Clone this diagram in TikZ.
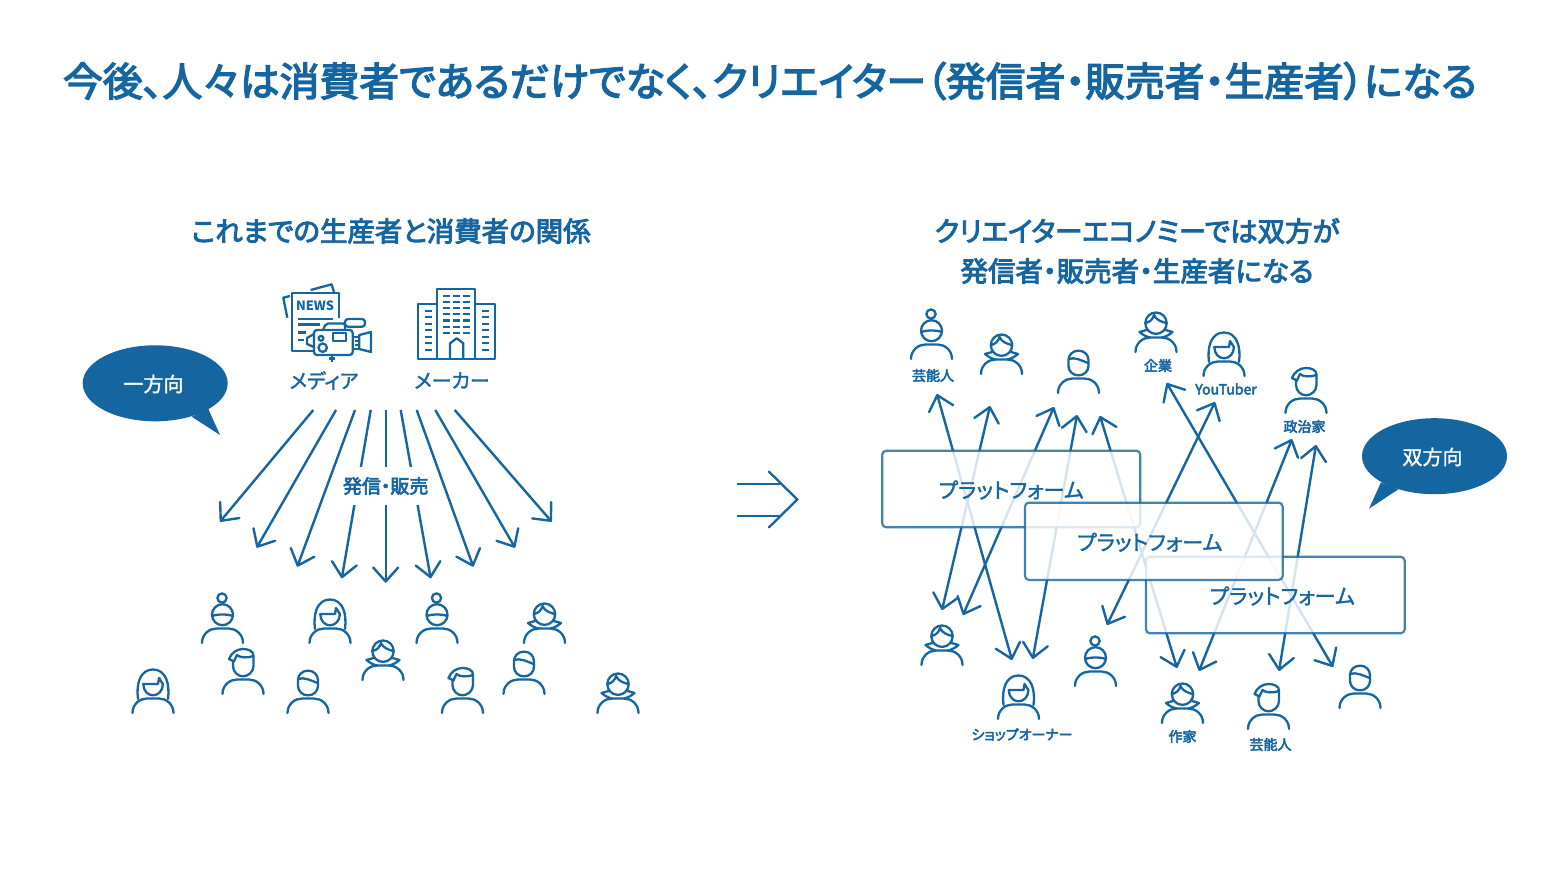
\documentclass[tikz,border=0pt]{standalone}
\usepackage{fontspec}
\setmainfont{Noto Sans CJK JP}[RawFeature=+palt]
\newfontfamily\jpheavy{Noto Sans CJK JP}[RawFeature=+palt,FakeBold=3.4]
\newfontfamily\jplight{Noto Sans CJK JP}[RawFeature=+palt,FakeBold=1.5]
\usepackage{xcolor}
\definecolor{mainblue}{RGB}{21,101,160}
\usetikzlibrary{shapes.geometric,arrows.meta,positioning}

\newcommand{\drawshoulders}{%
  \draw (-20.5,0) .. controls (-20.5,-9) and (-13,-14.5) .. (-6,-14.5) -- (6,-14.5)
        .. controls (13,-14.5) and (20.5,-9) .. (20.5,0);}
\tikzset{
  bunhead/.pic={\drawshoulders
    \draw (0,-28.3) circle (10.5);
    \draw (-0.5,-45) circle (4.6);
    \draw (-10.3,-27) .. controls (-5,-29) and (5,-29) .. (10.3,-27);},
  longhair/.pic={\drawshoulders
    \draw (-15,-14) .. controls (-17,-29) and (-13,-43.5) .. (0,-43.5)
          .. controls (13,-43.5) and (17,-29) .. (15,-14);
    \draw[line join=round] (-9.7,-29) -- (5,-29) -- (6,-35) -- (9.9,-29)
          .. controls (9.9,-22) and (5,-17.7) .. (0,-17.7)
          .. controls (-5,-17.7) and (-9.7,-22) .. (-9.7,-29) -- cycle;},
  quiff/.pic={\drawshoulders
    \draw (-10,-33) -- (-10,-28) .. controls (-10,-22) and (-5,-17.7) .. (0,-17.7)
          .. controls (5,-17.7) and (10.5,-22) .. (10.5,-28) -- (10.5,-38);
    \draw[line join=round] (-14,-35) .. controls (-12,-41) and (-6,-45) .. (0,-45)
          .. controls (5,-45) and (11,-43) .. (10.5,-38)
          .. controls (5,-36) and (-3,-36) .. (-6,-39)
          .. controls (-7,-37) and (-8,-35) .. (-9,-32.5) -- cycle;},
  shorthair/.pic={\drawshoulders
    \draw[rounded corners=9.5pt] (-10,-42.3) rectangle (10,-17.7);
    \draw (-10,-34) .. controls (-4,-36.5) and (4,-32) .. (9.7,-30);},
  bobhair/.pic={\drawshoulders
    \draw (0,-28.8) circle (10.7);
    \draw (-10.3,-29) .. controls (-6,-30) and (-3,-33) .. (-2,-37)
          .. controls (0,-32) and (6,-30) .. (10.3,-29);
    \draw[line join=round] (-9.5,-22) -- (-16.5,-20) .. controls (-13,-17) and (-10,-15.5) .. (-6,-14.5);
    \draw[line join=round] (9.5,-22) -- (16.5,-20) .. controls (13,-17) and (10,-15.5) .. (6,-14.5);},
}

\begin{document}
\begin{tikzpicture}[x=1pt,y=-1pt,
    person/.style={draw=mainblue, line width=2.3pt, line cap=round},
    arr/.style={-{Straight Barb[length=14pt,width=25pt,round]}, line width=2.4pt, mainblue},
    dbl/.style={{Straight Barb[length=14pt,width=25pt,round]}-{Straight Barb[length=14pt,width=25pt,round]},
                line width=2.4pt, mainblue},
    platform/.style={rectangle, rounded corners=4pt, draw=mainblue, draw opacity=.8,
                     fill=white, fill opacity=.82, line width=2.2pt, inner sep=0pt},
    pftext/.style={font=\fontsize{21.2pt}{24pt}\jplight, text=mainblue},
    bubble/.style={ellipse, fill=mainblue, inner sep=0pt, minimum width=145pt, minimum height=76pt},
    heading/.style={font=\fontsize{27.5pt}{40pt}\jpheavy, text=mainblue, align=center},
    iconlab/.style={font=\fontsize{20pt}{22pt}\jplight, text=mainblue},
    who/.style={font=\fontsize{14pt}{16pt}\jpheavy, text=mainblue},
    bubblelab/.style={font=\fontsize{20pt}{24pt}\jplight, text=white},
    icon/.style={draw=mainblue, line width=2.3pt, line join=round},
  ]
    \useasboundingbox[fill=white] (0,0) rectangle (1560,878);

    \node[font=\fontsize{39.8pt}{44pt}\jpheavy, text=mainblue] (title) at (770,81)
      {今後、人々は消費者であるだけでなく、クリエイター（発信者・販売者・生産者）になる};
    \node[heading] (headleft) at (391,231) {これまでの生産者と消費者の関係};
    \node[heading] (headright) at (1137,251) {クリエイターエコノミーでは双方が\\発信者・販売者・生産者になる};

    % left side
    \node[bubble] (oneway) at (155.2,383.3) {};
    \node[bubblelab] (onelab) at (153.5,384) {一方向};
    \coordinate (onetail) at (220,435);
    \fill[mainblue] (191.7,416.7) -- (onetail) -- (208.3,409) -- cycle;

    \node[iconlab] (media) at (324,380.5) {メディア};
    \node[iconlab] (maker) at (452,380.5) {メーカー};

    % newspaper
    \draw[icon] (287.3,317.7) -- (283.3,297.7) -- (290,296);
    \draw[icon] (310.7,290) -- (331.7,284.3) -- (334,292.3);
    \draw[icon] (339.3,318.3) -- (339.3,293.3) -- (291.7,293.3) -- (291.7,351) -- (313.3,351);
    \node[font=\fontsize{12.8pt}{14pt}\selectfont\bfseries, text=mainblue, inner sep=0pt] (news) at (315,305.5) {NEWS};
    \draw[icon] (298.3,319.3) -- (333.3,319.3);
    \draw[icon] (298.3,324.6) -- (320,324.6);
    \draw[icon] (298.3,332.5) -- (306,332.5);
    \draw[icon] (298.3,340) -- (304,340);
    % camera
    \draw[icon] (314,334) -- (307,338) -- (307,344) -- (314,347);
    \draw[icon, fill=white, rounded corners=2pt] (323,330) -- (326,323.5) -- (345,323.5) -- (345,330);
    \draw[icon, fill=white, rounded corners=3pt] (345,319) rectangle (365,326.7);
    \draw[icon, fill=white, rounded corners=3pt] (314,330) rectangle (352.7,355);
    \draw[icon] (333.3,333.3) rectangle (346,341);
    \draw[icon] (321,338.3) circle (2.4);
    \draw[icon] (322.7,347.7) circle (4.2);
    \draw[icon, fill=white] (352.7,336.7) rectangle (359.3,349);
    \draw[icon] (354.5,341) -- (358,341) (354.5,345) -- (358,345);
    \draw[icon, fill=white] (359.3,335) -- (371,332) -- (371,352) -- (359.3,349) -- cycle;
    \draw[icon] (331.7,355) -- (331.7,362);
    \draw[icon] (328.5,358.5) -- (334.5,358.5);

    % building
    \draw[icon] (437.3,304) -- (418.3,304) -- (418.3,359) -- (494.7,359) -- (494.7,304) -- (475.3,304);
    \draw[icon] (437.3,359) -- (437.3,289) -- (475.3,289) -- (475.3,359);
    \draw[icon] (450,359) -- (450,343.3) -- (456.7,338.3) -- (463.3,343.3) -- (463.3,359);
    \foreach \wy in {295.7,301.9,308.1,314.3,320.5,326.7,333} {
      \draw[icon] (443.3,\wy) -- (450,\wy) (453.3,\wy) -- (459.8,\wy);
      \draw[icon] (463.3,\wy) -- (470,\wy);
    }
    \foreach \wy in {310.7,317.2,323.7,330.2,336.7,343.2,349.7} {
      \draw[icon] (425,\wy) -- (431.7,\wy) (482.3,\wy) -- (488.6,\wy);
    }

    % fan of arrows
    \foreach \n/\ax/\ay/\bx/\by in {1/313.3/410/220/521.7, 2/336/410/256.7/547.7, 3/355/410/297.3/566.7,
        4/370.7/410/341.8/578.3, 5/385.7/410/385.7/582.7, 6/400.7/410/430.7/578.3,
        7/416.7/410/473.3/566.7, 8/435.3/410/515/547.7, 9/454.7/410/551.7/521.7} {
      \coordinate (fans\n) at (\ax,\ay);
      \coordinate (fane\n) at (\bx,\by);
      \draw[arr] (fans\n) -- (fane\n);
    }
    \node[font=\fontsize{19pt}{22pt}\jpheavy, text=mainblue, fill=white, inner sep=0pt,
          minimum width=88pt, minimum height=38pt] (send) at (385.7,486) {発信・販売};

    \foreach \kind/\px/\py in {longhair/153/713, bunhead/222.5/643, longhair/330/643, bobhair/383/680,
        bunhead/437/643, bobhair/544.5/643, quiff/243/694, shorthair/308/713,
        quiff/462.5/713, shorthair/524/694, bobhair/618/713} {
      \pic[person] at (\px,\py) {\kind};
    }

    % middle arrow
    \coordinate (mida) at (736.7,483.7);
    \coordinate (midb) at (780,483.7);
    \coordinate (midc) at (736.7,515.7);
    \coordinate (midd) at (780,515.7);
    \draw[line width=2.3pt, mainblue] (mida) -- (midb) (midc) -- (midd);
    \draw[line width=2.3pt, mainblue, line cap=round, line join=miter] (769,471.7) -- (797.3,499.5) -- (769,527.3);

    % right side, arrows run under the platforms
    \foreach \n/\ax/\ay/\bx/\by in {1/937/394/1012/660, 2/990/406/942/610, 3/1054/407/963/615,
        4/1077/415/1032.7/659, 5/1100/416/1177/668, 6/1166.7/383/1333/667,
        7/1215/402/1107/625, 8/1292/439/1199/671, 9/1316/445/1279/671} {
      \coordinate (twos\n) at (\ax,\ay);
      \coordinate (twoe\n) at (\bx,\by);
      \draw[dbl] (twos\n) -- (twoe\n);
    }
    \node[platform, minimum width=258pt, minimum height=76.6pt] (pf1) at (1011.2,489) {};
    \node[platform, minimum width=258.7pt, minimum height=76.6pt] (pf3) at (1275.3,595) {};
    \node[platform, minimum width=257.7pt, minimum height=77.3pt] (pf2) at (1153.8,541.3) {};
    \node[pftext] (pf1t) at ([xshift=0pt,yshift=-1pt]pf1.center) {プラットフォーム};
    \node[pftext] (pf2t) at ([xshift=-4pt,yshift=-1pt]pf2.center) {プラットフォーム};
    \node[pftext] (pf3t) at ([xshift=7pt,yshift=-1pt]pf3.center) {プラットフォーム};

    \foreach \kind/\px/\py in {bunhead/931.5/359, bobhair/1001.5/374, shorthair/1078.5/393, bobhair/1156/352,
        longhair/1224/376, quiff/1306/413, bobhair/942/665, longhair/1018.5/719, bunhead/1095.5/686,
        bobhair/1182.5/723, quiff/1268.5/729, shorthair/1360/708} {
      \pic[person] at (\px,\py) {\kind};
    }
    \node[who] (w1) at (933,375.5) {芸能人};
    \node[who] (w2) at (1158,365.5) {企業};
    \node[who] (w3) at (1226,389) {YouTuber};
    \node[who] (w4) at (1304.5,426.5) {政治家};
    \node[who] (w5) at (1022,734.5) {ショップオーナー};
    \node[who] (w6) at (1182.5,736.5) {作家};
    \node[who] (w7) at (1270.5,744.5) {芸能人};

    \node[bubble] (bothway) at (1434.5,456.2) {};
    \node[bubblelab] (bothlab) at (1432.5,457) {双方向};
    \coordinate (bothtail) at (1369,508.7);
    \fill[mainblue] (1398.3,489.3) -- (bothtail) -- (1381,482.3) -- cycle;
  \end{tikzpicture}
\end{document}
